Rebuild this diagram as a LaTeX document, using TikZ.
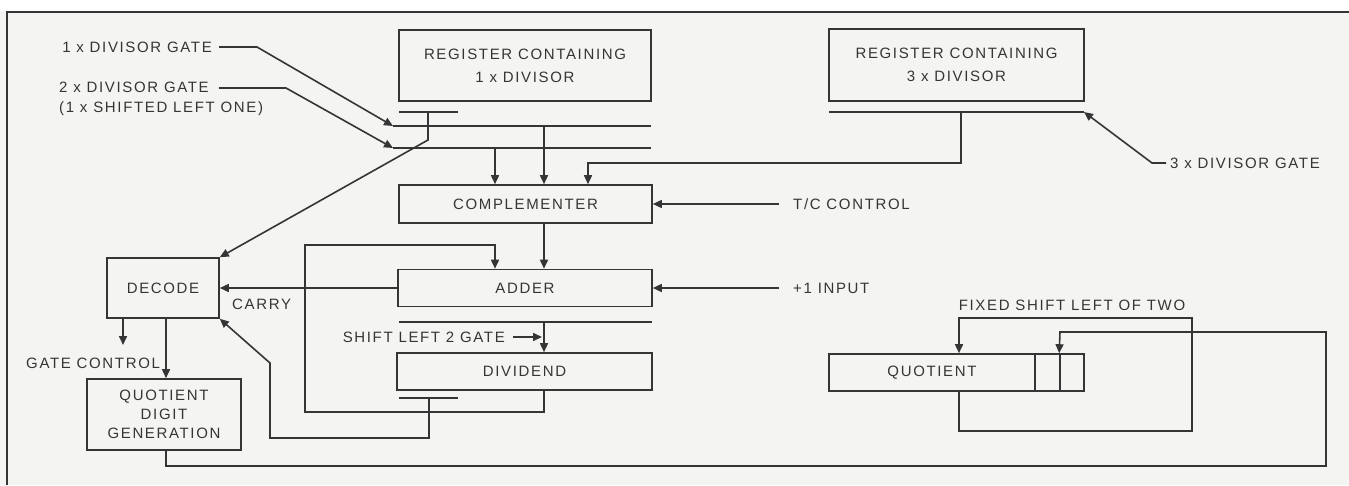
\documentclass[tikz,border=0pt]{standalone}
\usepackage{fontspec}
\setmainfont[LetterSpace=11]{Liberation Sans}
\usetikzlibrary{arrows.meta}
\definecolor{ink}{HTML}{353535}
\definecolor{paper}{HTML}{F4F4F2}
\newcommand\dfont{\fontsize{15}{23}\selectfont}
\newcommand\qfont{\fontsize{15}{19}\selectfont}
\newcommand\gfont{\fontsize{15}{20}\selectfont}
\begin{document}
\begin{tikzpicture}[x=1pt,y=-1pt,
  box/.style={draw=ink, line width=1.6pt, inner sep=0pt, align=center, font=\dfont, text=ink},
  wire/.style={draw=ink, line width=1.6pt, line join=miter},
  arr/.style={wire, -{Triangle[length=9pt,width=8pt]}},
  lab/.style={inner sep=0pt, text=ink, font=\dfont, text height=10.7pt, text depth=0pt}]
\fill[paper] (0,0) rectangle (1349,485);
\fill[white] (0,0) rectangle (1349,11);
\useasboundingbox (0,0) rectangle (1349,485);
% frame
\draw[wire] (7,485) -- (7,12) -- (1349,12);
% boxes
\node[box, minimum width=252pt, minimum height=71pt] (reg1) at (525,65.5) {REGISTER CONTAINING\\1 x DIVISOR};
\node[box, minimum width=255pt, minimum height=72pt] (reg3) at (956.5,65) {REGISTER CONTAINING\\3 x DIVISOR};
\node[box, minimum width=253pt, minimum height=38pt] (comp) at (525.5,204) {COMPLEMENTER};
\node[box, minimum width=254pt, minimum height=37pt] (adder) at (525,288) {ADDER};
\node[box, minimum width=255pt, minimum height=37pt] (divd) at (524.5,371.5) {DIVIDEND};
\node[box, minimum width=112pt, minimum height=60pt] (decode) at (163,288) {DECODE};
\node[box, font=\qfont, minimum width=154pt, minimum height=71pt] (qdg) at (164,414.5) {QUOTIENT\\DIGIT\\GENERATION};
\node[box, minimum width=206pt, minimum height=37pt] (quot) at (932,372.5) {QUOTIENT};
\node[box, minimum width=25pt, minimum height=37pt] (q1) at (1047.5,372.5) {};
\node[box, minimum width=24pt, minimum height=37pt] (q2) at (1072,372.5) {};
% labels
\node[lab, anchor=east] (l1x) at (212,47) {1 x DIVISOR GATE};
\node[inner sep=0pt, text=ink, font=\gfont, align=left, anchor=west] (l2x) at (59,99) {2 x DIVISOR GATE\\(1 x SHIFTED LEFT ONE)};
\coordinate (l2xe) at (212,88);
\node[lab, anchor=west] (l3x) at (1170,163) {3 x DIVISOR GATE};
\node[lab, anchor=west] (tc) at (793,204) {T/C CONTROL};
\node[lab, anchor=west] (p1) at (793,288) {+1 INPUT};
\node[lab, anchor=west] (carry) at (232,304) {CARRY};
\node[lab, anchor=east] (sl) at (505,337) {SHIFT LEFT 2 GATE};
\node[lab, anchor=west] (gc) at (26,363) {GATE CONTROL};
\node[lab] (fs) at (1072,305) {FIXED SHIFT LEFT OF TWO};
% gate buses
\coordinate (b1s) at (399,112); \coordinate (b1e) at (458,112);
\coordinate (b2s) at (393,126); \coordinate (b2e) at (651,126);
\coordinate (b3s) at (393,148); \coordinate (b3e) at (651,148);
\coordinate (b4s) at (829,112); \coordinate (b4e) at (1084,112);
\coordinate (b5s) at (399,322); \coordinate (b5e) at (652,322);
\coordinate (b6s) at (399,398); \coordinate (b6e) at (458,398);
\draw[wire] (b1s) -- (b1e);
\draw[wire] (b2s) -- (b2e);
\draw[wire] (b3s) -- (b3e);
\draw[wire] (b4s) -- (b4e);
\draw[wire] (b5s) -- (b5e);
\draw[wire] (b6s) -- (b6e);
% connectors
\draw[arr] ([xshift=7pt]l1x.east) -- (257,47) -- (b2s);
\draw[arr] ([xshift=7pt]l2xe) -- (286,88) -- (b3s);
\draw[arr] (428,112) -- (428,140) -- (decode.north east);
\draw[arr] (495,148) -- (495,0 |- comp.north);
\draw[arr] (544,126) -- (544,0 |- comp.north);
\draw[arr] (961,112) -- (961,163) -- (588,163) -- (588,0 |- comp.north);
\draw[arr] ([xshift=-4pt]l3x.west) -- (1152,163) -- (b4e);
\draw[arr] ([xshift=-14pt]tc.west) -- (tc.west -| comp.east);
\draw[arr] (544,0 |- comp.south) -- (544,0 |- adder.north);
\draw[arr] ([xshift=-14pt]p1.west) -- (p1.west -| adder.east);
\draw[arr] (adder.west) -- (adder.west -| decode.east);
\draw[arr] (544,0 |- divd.south) -- (544,412) -- (305,412) -- (305,245) -- (495,245) -- (495,0 |- adder.north);
\draw[arr] (544,322) -- (544,0 |- divd.north);
\draw[arr] ([xshift=8pt]sl.east) -- (542,337);
\draw[arr] (429,398) -- (429,438) -- (270,438) -- (270,363) -- (decode.south east);
\draw[arr] (123,0 |- decode.south) -- (123,345);
\draw[arr] (166,0 |- decode.south) -- (166,0 |- qdg.north);
\draw[arr] (166,0 |- qdg.south) -- (166,466) -- (1326,466) -- (1326,332) -- (1060,332) -- (q2.north west);
\draw[arr] (959,0 |- quot.south) -- (959,431) -- (1192,431) -- (1192,318) -- (959,318) -- (959,0 |- quot.north);
\end{tikzpicture}
\end{document}
